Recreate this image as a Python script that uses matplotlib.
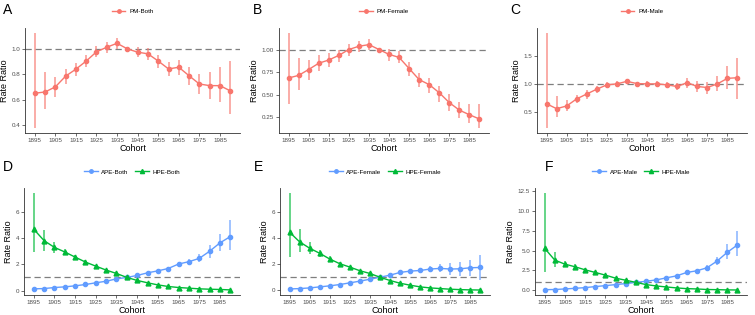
import matplotlib
import matplotlib.pyplot as plt
from matplotlib.lines import Line2D

matplotlib.use("Agg")
plt.rcParams["font.family"] = ["Liberation Sans", "DejaVu Sans"]

cohort = list(range(1895, 1991, 5))
x_ticks = list(range(1895, 1986, 10))

# ── painel A/B/C: PM ───────────────────────────────────────────
pm_both = [0.65, 0.66, 0.70, 0.785, 0.84, 0.904, 0.977, 1.013, 1.044, 1.0,
           0.974, 0.961, 0.904, 0.842, 0.855, 0.788, 0.723, 0.71, 0.71, 0.669]
pm_both_lo = [0.374, 0.529, 0.622, 0.726, 0.788, 0.86, 0.933, 0.969, 1.0, 1.0,
              0.933, 0.912, 0.853, 0.783, 0.796, 0.716, 0.643, 0.602, 0.581, 0.485]
pm_both_hi = [1.127, 0.819, 0.777, 0.842, 0.891, 0.95, 1.026, 1.057, 1.088, 1.0,
              1.015, 1.003, 0.95, 0.897, 0.912, 0.855, 0.803, 0.819, 0.855, 0.902]

pm_female = [0.685, 0.714, 0.779, 0.848, 0.884, 0.935, 1.0, 1.036, 1.054, 1.0,
             0.946, 0.913, 0.79, 0.667, 0.612, 0.522, 0.413, 0.33, 0.279, 0.232]
pm_female_lo = [0.395, 0.558, 0.659, 0.757, 0.812, 0.866, 0.928, 0.971, 0.993, 1.0,
                0.873, 0.848, 0.703, 0.587, 0.514, 0.42, 0.322, 0.243, 0.188, 0.13]
pm_female_hi = [1.185, 0.902, 0.884, 0.938, 0.964, 1.0, 1.065, 1.094, 1.12, 1.0,
                1.01, 0.986, 0.866, 0.739, 0.685, 0.601, 0.504, 0.42, 0.395, 0.395]

pm_male = [0.64, 0.552, 0.60, 0.727, 0.814, 0.90, 0.977, 0.995, 1.04, 1.0,
           0.995, 0.995, 0.977, 0.948, 1.017, 0.948, 0.93, 0.994, 1.093, 1.105]
pm_male_lo = [0.203, 0.395, 0.512, 0.645, 0.727, 0.83, 0.924, 0.95, 0.99, 1.0,
              0.95, 0.94, 0.913, 0.878, 0.924, 0.843, 0.82, 0.86, 0.90, 0.733]
pm_male_hi = [1.907, 0.785, 0.698, 0.80, 0.89, 0.96, 1.02, 1.04, 1.08, 1.0,
              1.05, 1.05, 1.035, 1.017, 1.105, 1.05, 1.035, 1.134, 1.308, 1.46]

# ── painel D: Both ─────────────────────────────────────────────
ape_both = [0.13, 0.15, 0.23, 0.28, 0.36, 0.46, 0.59, 0.71, 0.89, 1.0,
            1.15, 1.35, 1.5, 1.68, 2.02, 2.2, 2.45, 2.99, 3.63, 4.11]
ape_both_lo = [0.10, 0.12, 0.20, 0.25, 0.33, 0.43, 0.56, 0.68, 0.86, 1.0,
               1.11, 1.29, 1.42, 1.58, 1.88, 2.0, 2.14, 2.48, 2.99, 3.11]
ape_both_hi = [0.17, 0.19, 0.26, 0.31, 0.39, 0.49, 0.62, 0.74, 0.92, 1.0,
               1.19, 1.41, 1.58, 1.79, 2.17, 2.42, 2.78, 3.50, 4.31, 5.39]
hpe_both = [4.67, 3.8, 3.29, 2.94, 2.55, 2.17, 1.86, 1.56, 1.3, 1.0,
            0.77, 0.59, 0.43, 0.31, 0.23, 0.18, 0.13, 0.1, 0.08, 0.05]
hpe_both_lo = [2.91, 2.99, 2.86, 2.73, 2.37, 2.05, 1.77, 1.49, 1.25, 1.0,
               0.74, 0.56, 0.40, 0.28, 0.20, 0.15, 0.10, 0.07, 0.05, 0.03]
hpe_both_hi = [7.45, 4.62, 3.70, 3.19, 2.73, 2.30, 1.96, 1.64, 1.36, 1.0,
               0.81, 0.63, 0.46, 0.34, 0.26, 0.21, 0.16, 0.14, 0.12, 0.09]

# ── painel E: Female ───────────────────────────────────────────
ape_female = [0.1, 0.13, 0.18, 0.26, 0.34, 0.44, 0.57, 0.7, 0.85, 1.0,
              1.16, 1.37, 1.47, 1.52, 1.63, 1.68, 1.63, 1.65, 1.73, 1.75]
ape_female_lo = [0.08, 0.10, 0.15, 0.23, 0.31, 0.41, 0.54, 0.67, 0.82, 1.0,
                 1.11, 1.30, 1.38, 1.40, 1.44, 1.37, 1.21, 1.11, 1.11, 0.77]
ape_female_hi = [0.13, 0.16, 0.21, 0.29, 0.37, 0.47, 0.60, 0.73, 0.88, 1.0,
                 1.21, 1.44, 1.57, 1.65, 1.84, 1.99, 2.06, 2.19, 2.32, 2.71]
hpe_female = [4.46, 3.72, 3.23, 2.84, 2.4, 2.04, 1.78, 1.5, 1.29, 1.0,
              0.75, 0.54, 0.39, 0.26, 0.18, 0.13, 0.08, 0.05, 0.03, 0.02]
hpe_female_lo = [2.58, 2.92, 2.81, 2.58, 2.22, 1.92, 1.69, 1.43, 1.24, 1.0,
                 0.72, 0.51, 0.36, 0.23, 0.15, 0.10, 0.06, 0.03, 0.02, 0.01]
hpe_female_hi = [7.48, 4.72, 3.69, 3.12, 2.60, 2.17, 1.88, 1.57, 1.34, 1.0,
                 0.78, 0.57, 0.42, 0.29, 0.21, 0.16, 0.11, 0.08, 0.06, 0.05]

# ── painel F: Male ─────────────────────────────────────────────
ape_male = [0.08, 0.1, 0.17, 0.25, 0.34, 0.47, 0.59, 0.72, 0.85, 1.0,
            1.14, 1.31, 1.57, 1.82, 2.25, 2.46, 2.84, 3.69, 4.79, 5.72]
ape_male_lo = [0.05, 0.07, 0.14, 0.22, 0.31, 0.43, 0.55, 0.68, 0.81, 1.0,
               1.09, 1.25, 1.49, 1.72, 2.10, 2.27, 2.50, 3.18, 3.94, 4.28]
ape_male_hi = [0.13, 0.15, 0.21, 0.29, 0.38, 0.51, 0.63, 0.76, 0.89, 1.0,
               1.19, 1.37, 1.65, 1.93, 2.40, 2.66, 3.20, 4.24, 5.80, 7.50]
hpe_male = [5.3, 3.81, 3.3, 2.97, 2.58, 2.25, 1.91, 1.53, 1.27, 1.0,
            0.72, 0.55, 0.42, 0.3, 0.21, 0.17, 0.1, 0.08, 0.05, 0.04]
hpe_male_lo = [2.33, 2.88, 2.88, 2.70, 2.38, 2.10, 1.80, 1.45, 1.21, 1.0,
               0.68, 0.51, 0.38, 0.27, 0.18, 0.14, 0.08, 0.05, 0.03, 0.02]
hpe_male_hi = [12.3, 4.87, 3.69, 3.27, 2.78, 2.40, 2.02, 1.61, 1.33, 1.0,
               0.76, 0.59, 0.46, 0.33, 0.24, 0.20, 0.13, 0.11, 0.08, 0.07]

COR_PM = "#F8766D"
COR_APE = "#619CFF"
COR_HPE = "#00BA38"

W, H = 755, 315
fig = plt.figure(figsize=(W / 100, H / 100), dpi=100)


def _eixo(esq, topo, dir, base):
    return fig.add_axes([esq / W, 1 - base / H, (dir - esq) / W, (base - topo) / H])


def _serie(ax, y, lo, hi, cor, marcador, ms):
    ax.vlines(cohort, lo, hi, color=cor, alpha=0.65, linewidth=1.3, zorder=2)
    ax.plot(cohort, y, color=cor, linewidth=1.0, marker=marcador, markersize=ms, zorder=3)


def _painel(ax, letra, yticks, fmt, series, lx, ly):
    lows = [v for s in series for v in s[1]]
    highs = [v for s in series for v in s[2]]
    lo, hi = min(lows + [1.0]), max(highs + [1.0])
    pad = (hi - lo) * 0.05
    ax.set_ylim(lo - pad, hi + pad)
    ax.set_xlim(1890.25, 1994.75)

    ax.axhline(1.0, color="#7f7f7f", linestyle=(0, (5, 3)), linewidth=0.9, zorder=1)
    handles = []
    for y, l, h, cor, mk, ms, nome in series:
        _serie(ax, y, l, h, cor, mk, ms)
        handles.append(Line2D([], [], color=cor, marker=mk, markersize=ms - 0.5,
                              linewidth=1.0, label=nome))

    ax.set_xticks(x_ticks)
    ax.set_yticks(yticks)
    ax.set_yticklabels([fmt.format(v) for v in yticks])
    ax.tick_params(labelsize=4.5, labelcolor="#4d4d4d", length=2, width=0.5,
                   color="#333333", pad=1.5)
    for lado in ("top", "right"):
        ax.spines[lado].set_visible(False)
    for lado in ("left", "bottom"):
        ax.spines[lado].set_color("#333333")
        ax.spines[lado].set_linewidth(0.6)
    ax.set_xlabel("Cohort", fontsize=6.5, labelpad=1)
    ax.set_ylabel("Rate Ratio", fontsize=6.5, labelpad=2)

    pos = ax.get_position()
    fig.legend(handles=handles, loc="center", ncol=len(handles), frameon=False,
               fontsize=4.5, handlelength=2.2, columnspacing=1.0, handletextpad=0.6,
               bbox_to_anchor=((pos.x0 + pos.x1) / 2, 1 - ly / H))
    fig.text(lx / W, 1 - 10 / H if ly < 50 else 1 - 167 / H, letra,
             fontsize=10, va="center", ha="left")


ax_a = _eixo(25, 28, 240, 133)
_painel(ax_a, "A", [0.4, 0.6, 0.8, 1.0], "{:.1f}",
        [(pm_both, pm_both_lo, pm_both_hi, COR_PM, "o", 3, "PM-Both")], 3, 11)

ax_b = _eixo(279, 28, 489, 133)
_painel(ax_b, "B", [0.25, 0.5, 0.75, 1.0], "{:.2f}",
        [(pm_female, pm_female_lo, pm_female_hi, COR_PM, "o", 3, "PM-Female")], 253, 11)

ax_c = _eixo(537, 28, 747, 133)
_painel(ax_c, "C", [0.5, 1.0, 1.5], "{:.1f}",
        [(pm_male, pm_male_lo, pm_male_hi, COR_PM, "o", 3, "PM-Male")], 510, 11)

ax_d = _eixo(24, 188, 240, 295)
_painel(ax_d, "D", [0, 2, 4, 6], "{:.0f}",
        [(ape_both, ape_both_lo, ape_both_hi, COR_APE, "o", 3, "APE-Both"),
         (hpe_both, hpe_both_lo, hpe_both_hi, COR_HPE, "^", 3.5, "HPE-Both")], 3, 172)

ax_e = _eixo(280, 188, 490, 295)
_painel(ax_e, "E", [0, 2, 4, 6], "{:.0f}",
        [(ape_female, ape_female_lo, ape_female_hi, COR_APE, "o", 3, "APE-Female"),
         (hpe_female, hpe_female_lo, hpe_female_hi, COR_HPE, "^", 3.5, "HPE-Female")], 254, 172)

ax_f = _eixo(535, 188, 747, 295)
_painel(ax_f, "F", [0, 2.5, 5, 7.5, 10, 12.5], "{:.1f}",
        [(ape_male, ape_male_lo, ape_male_hi, COR_APE, "o", 3, "APE-Male"),
         (hpe_male, hpe_male_lo, hpe_male_hi, COR_HPE, "^", 3.5, "HPE-Male")], 545, 172)

fig.savefig("out.png", dpi=100)
